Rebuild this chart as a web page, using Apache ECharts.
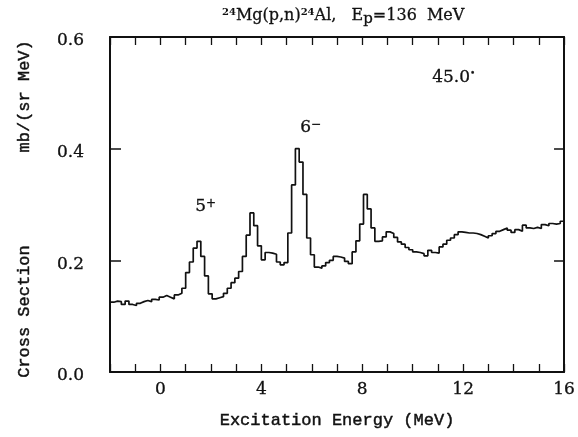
<!DOCTYPE html>
<html>
<head>
<meta charset="utf-8">
<script src="https://cdn.jsdelivr.net/npm/echarts@6/dist/echarts.min.js"></script>
<style>
  html, body { margin: 0; padding: 0; background: #fff; }
  #chart { width: 578px; height: 437px; }
</style>
</head>
<body>
<div id="chart"></div>
<script>
// Spectrum binning (MeV)
const binStart = -2;
const binWidth = 0.15;

// Cross section per bin, mb/(sr MeV)
const crossSection = [
  0.125, 0.127, 0.126, 0.121, 0.127, 0.121, 0.119, 0.123, 0.126, 0.128,
  0.126, 0.130, 0.129, 0.134, 0.137, 0.134, 0.131, 0.138, 0.141, 0.150,
  0.178, 0.197, 0.222, 0.234, 0.207, 0.172, 0.140, 0.131, 0.133, 0.135,
  0.141, 0.150, 0.160, 0.168, 0.180, 0.207, 0.245, 0.285, 0.262, 0.226,
  0.201, 0.214, 0.213, 0.211, 0.197, 0.192, 0.196, 0.249, 0.335, 0.400,
  0.376, 0.318, 0.240, 0.210, 0.188, 0.186, 0.190, 0.196, 0.200, 0.207,
  0.206, 0.204, 0.198, 0.194, 0.215, 0.235, 0.265, 0.318, 0.292, 0.258,
  0.234, 0.235, 0.242, 0.251, 0.248, 0.241, 0.233, 0.229, 0.223, 0.219,
  0.215, 0.214, 0.212, 0.208, 0.218, 0.214, 0.213, 0.224, 0.229, 0.236,
  0.240, 0.246, 0.251, 0.250, 0.249, 0.249, 0.248, 0.246, 0.243, 0.240,
  0.244, 0.248, 0.252, 0.255, 0.258, 0.254, 0.250, 0.255, 0.252, 0.263,
  0.258, 0.257, 0.259, 0.257, 0.264, 0.262, 0.266, 0.265, 0.266, 0.270
];

// Axis labelling
const xLabelValues = [0, 4, 8, 12, 16];
const yLabelValues = [0, 0.2, 0.4, 0.6];

const MONO = '"Liberation Mono", "DejaVu Sans Mono", monospace';
const SERIF = '"DejaVu Serif", "Liberation Serif", serif';
const INK = '#111';

// Histogram outline: left edge of each bin, plus closing right edge
const histData = crossSection.map((v, i) => [binStart + i * binWidth, v]);
histData.push([binStart + crossSection.length * binWidth, crossSection[crossSection.length - 1]]);

const chart = echarts.init(document.getElementById('chart'), null, { renderer: 'canvas' });

const baseX = {
  type: 'value', min: -2, max: 16, interval: 1,
  axisLine: { show: true, onZero: false, lineStyle: { color: INK, width: 2 } },
  axisTick: { show: true, inside: true, length: 8, lineStyle: { color: INK, width: 1.3 } },
  splitLine: { show: false }
};
const baseY = {
  type: 'value', min: 0, max: 0.6, interval: 0.2,
  axisLine: { show: true, onZero: false, lineStyle: { color: INK, width: 2 } },
  axisTick: { show: true, inside: true, length: 11, lineStyle: { color: INK, width: 1.5 } },
  splitLine: { show: false }
};

const inked = { textBorderColor: INK, textBorderWidth: 0.3 };

chart.setOption({
  animation: false,
  backgroundColor: '#fff',
  title: {
    text: '{sup|24}{b|Mg(p,n)}{sup|24}{b|Al,   E}{sub|p}{b|=136  MeV}',
    left: 217, top: 0,
    textStyle: {
      fontWeight: 'normal',
      rich: {
        b: Object.assign({ fontFamily: SERIF, fontSize: 16, fontWeight: 'normal', color: INK, lineHeight: 22, verticalAlign: 'middle' }, inked),
        sup: { fontFamily: SERIF, fontSize: 10, fontWeight: 'bold', color: INK, lineHeight: 22, verticalAlign: 'top', padding: [2, 0, 0, 0] },
        sub: Object.assign({ fontFamily: SERIF, fontSize: 15, fontWeight: 'normal', color: INK, lineHeight: 22, verticalAlign: 'bottom', padding: [12, 0, 0, 0] }, inked)
      }
    }
  },
  grid: { left: 110, right: 11, top: 37, bottom: 65, containLabel: false },
  xAxis: [
    Object.assign({}, baseX, {
      position: 'bottom',
      name: 'Excitation Energy (MeV)', nameLocation: 'middle', nameGap: 40,
      nameTextStyle: { fontFamily: MONO, fontSize: 17, color: INK, textBorderColor: INK, textBorderWidth: 0.45 },
      axisLabel: Object.assign({
        fontFamily: SERIF, fontSize: 17, color: INK, margin: 9,
        formatter: v => (xLabelValues.indexOf(v) >= 0 ? String(v) : '')
      }, inked)
    }),
    Object.assign({}, baseX, {
      position: 'top',
      axisLabel: { show: false }
    })
  ],
  yAxis: [
    Object.assign({}, baseY, {
      position: 'left',
      axisLabel: {
        margin: 26,
        formatter: v => (yLabelValues.some(t => Math.abs(t - v) < 1e-9) ? '{t|' + v.toFixed(1) + '}' : ''),
        rich: {
          t: Object.assign({ fontFamily: SERIF, fontSize: 17, color: INK, padding: [8, 0, 0, 0] }, inked)
        }
      }
    }),
    Object.assign({}, baseY, {
      position: 'right',
      axisTick: { show: true, inside: true, length: 10, lineStyle: { color: INK, width: 1.5 } },
      axisLabel: { show: false }
    })
  ],
  series: [{
    type: 'line',
    step: 'end',
    data: histData,
    showSymbol: false,
    symbol: 'none',
    lineStyle: { color: INK, width: 1.7 },
    clip: true
  }],
  graphic: [
    { type: 'text', left: 16, top: 245, rotation: Math.PI / 2,
      style: { text: 'Cross Section', font: '17px ' + MONO, fill: INK, stroke: INK, lineWidth: 0.45 } },
    { type: 'text', left: 16, top: 40, rotation: Math.PI / 2,
      style: { text: 'mb/(sr MeV)', font: '17px ' + MONO, fill: INK, stroke: INK, lineWidth: 0.45 } },
    { type: 'text', left: 195, top: 198,
      style: {
        text: '5{s|+}', fill: INK, font: '17px ' + SERIF, stroke: INK, lineWidth: 0.3,
        rich: { s: { fontFamily: SERIF, fontSize: 12, fill: INK, verticalAlign: 'top' } }
      } },
    { type: 'text', left: 300, top: 119,
      style: {
        text: '6{s|−}', fill: INK, font: '17px ' + SERIF, stroke: INK, lineWidth: 0.3,
        rich: { s: { fontFamily: SERIF, fontSize: 12, fill: INK, verticalAlign: 'top' } }
      } },
    { type: 'text', left: 432, top: 69,
      style: {
        text: '45.0{s|•}', fill: INK, font: '17px ' + SERIF, stroke: INK, lineWidth: 0.3,
        rich: { s: { fontFamily: SERIF, fontSize: 9, fill: INK, verticalAlign: 'top' } }
      } }
  ]
});
</script>
</body>
</html>
